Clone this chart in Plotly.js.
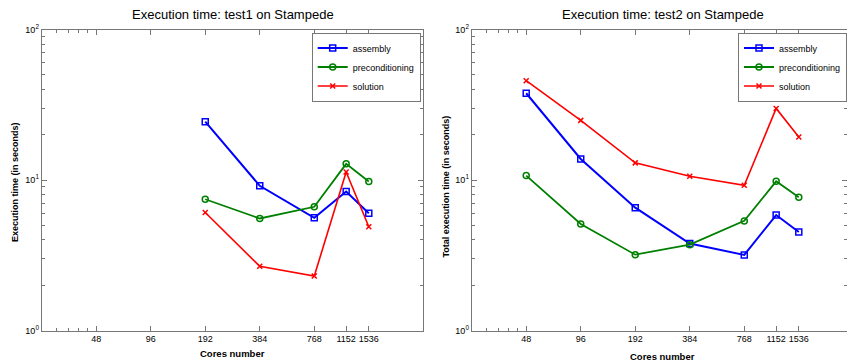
<!DOCTYPE html>
<html>
<head>
<meta charset="utf-8">
<script src="https://cdn.plot.ly/plotly-3.0.1.min.js"></script>
<style>html,body{margin:0;padding:0;background:#fff;}#chart{width:847px;height:362px;}</style>
</head>
<body>
<div id="chart"></div>
<script>
// ---- data ----
const cores1 = [192, 384, 768, 1152, 1536];
const assembly1 = [24.4, 9.15, 5.61, 8.39, 6.02];
const precond1 = [7.45, 5.55, 6.64, 12.8, 9.77];
const solution1 = [6.08, 2.67, 2.30, 11.3, 4.89];

const cores2 = [48, 96, 192, 384, 768, 1152, 1536];
const assembly2 = [37.7, 13.8, 6.55, 3.78, 3.18, 5.85, 4.51];
const precond2 = [10.7, 5.10, 3.19, 3.72, 5.35, 9.80, 7.67];
const solution2 = [45.7, 24.9, 13.0, 10.6, 9.22, 29.9, 19.3];

const xTickVals = [48, 96, 192, 384, 768, 1152, 1536];
const xTickText = ['48', '96', '192', '384', '768', '1152', '1536'];
const xMinorVals = [28.8, 33.6, 38.4, 43.2];
const yTickVals = [1, 10, 100];
const yTickText = ['10<sup>0</sup>', '10<sup>1</sup>', '10<sup>2</sup>'];
const yMinorVals = [2, 3, 4, 5, 6, 7, 8, 9, 20, 30, 40, 50, 60, 70, 80, 90];

const seriesNames = ['assembly', 'preconditioning', 'solution'];
const titles = ['Execution time: test1 on Stampede', 'Execution time: test2 on Stampede'];
const yTitles = ['Execution time (in seconds)', 'Total execution time (in seconds)'];
const xTitle = 'Cores number';

// ---- styling / layout ----
const W = 847, H = 362;
const fx = p => p / W;
const fy = p => 1 - p / H;
const FONT = 'Liberation Sans, Arial, sans-serif';
const AX = '#777';
const colors = ['#0000ff', '#008000', '#ff0000'];
const lw = [2, 1.8, 1.6];
const markers = [
  {symbol: 'square-open', size: 6, line: {width: 1.5}},
  {symbol: 'circle-open', size: 6, line: {width: 1.5}},
  {symbol: 'x-thin-open', size: 5, line: {width: 1.5}}
];

function mk(x, y, i, xa, ya, leg) {
  return {
    x: x, y: y, type: 'scatter', mode: 'lines+markers', name: seriesNames[i],
    xaxis: xa, yaxis: ya, legend: leg,
    line: {color: colors[i], width: lw[i]},
    marker: Object.assign({color: colors[i]}, markers[i], {line: {color: colors[i], width: 1.5}})
  };
}

const traces = [
  mk(cores1, assembly1, 0, 'x', 'y', 'legend'),
  mk(cores1, precond1, 1, 'x', 'y', 'legend'),
  mk(cores1, solution1, 2, 'x', 'y', 'legend'),
  mk(cores2, assembly2, 0, 'x2', 'y2', 'legend2'),
  mk(cores2, precond2, 1, 'x2', 'y2', 'legend2'),
  mk(cores2, solution2, 2, 'x2', 'y2', 'legend2')
];

const xLo = Math.log10(24), xHi = Math.log10(3072);
const L1 = 41.7, R1 = 423.3, L2 = 471.7;
const panelW = R1 - L1;
const xHi2 = xLo + (W - L2) / panelW * (xHi - xLo);
const T = 29.5, B = 330.5;

function xax(domain, range) {
  return {
    type: 'log', domain: domain, range: range,
    tickmode: 'array', tickvals: xTickVals, ticktext: xTickText,
    ticks: 'inside', ticklen: 5, tickwidth: 1, tickcolor: AX,
    showline: true, linecolor: AX, linewidth: 1, mirror: 'ticks',
    showgrid: false, zeroline: false,
    tickfont: {family: FONT, size: 9, color: '#000'},
    minor: {tickmode: 'array', tickvals: xMinorVals, ticks: 'inside', ticklen: 3, tickcolor: AX, showgrid: false}
  };
}
function yax(anchor) {
  return {
    type: 'log', domain: [fy(B), fy(T)], range: [0, 2], anchor: anchor,
    tickmode: 'array', tickvals: yTickVals, ticktext: yTickText,
    ticks: 'inside', ticklen: 5, tickwidth: 1, tickcolor: AX,
    showline: true, linecolor: AX, linewidth: 1, mirror: 'ticks',
    showgrid: false, zeroline: false,
    tickfont: {family: FONT, size: 9, color: '#000'},
    minor: {tickmode: 'array', tickvals: yMinorVals, ticks: 'inside', ticklen: 3, tickcolor: AX, showgrid: false}
  };
}
function legend(xRight) {
  return {
    x: fx(xRight), xanchor: 'right', y: fy(32.5), yanchor: 'top',
    xref: 'paper', yref: 'paper',
    bgcolor: '#fff', bordercolor: AX, borderwidth: 1,
    font: {family: FONT, size: 9, color: '#000'},
    itemwidth: 30, tracegroupgap: 0
  };
}

const ann = [
  {text: titles[0], x: fx((L1 + R1) / 2), y: fy(14), font: {size: 13}},
  {text: titles[1], x: fx((L2 + L2 + panelW) / 2), y: fy(15), font: {size: 13}},
  {text: '<b>' + xTitle + '</b>', x: fx((L1 + R1) / 2), y: fy(353.5), font: {size: 9.5}},
  {text: '<b>' + xTitle + '</b>', x: fx((L2 + L2 + panelW) / 2), y: fy(356), font: {size: 9.5}},
  {text: '<b>' + yTitles[0] + '</b>', x: fx(15), y: fy(182), textangle: -90, font: {size: 9}},
  {text: '<b>' + yTitles[1] + '</b>', x: fx(445.5), y: fy(187), textangle: -90, font: {size: 9}}
].map(a => Object.assign({xref: 'paper', yref: 'paper', showarrow: false, xanchor: 'center', yanchor: 'middle'}, a,
  {font: Object.assign({family: FONT, color: '#000'}, a.font)}));

const layout = {
  width: W, height: H,
  margin: {l: 0, r: 0, t: 0, b: 0, pad: 0},
  paper_bgcolor: '#fff', plot_bgcolor: '#fff',
  showlegend: true,
  xaxis: xax([fx(L1), fx(R1)], [xLo, xHi]),
  yaxis: yax('x'),
  xaxis2: Object.assign(xax([fx(L2), 1], [xLo, xHi2]), {anchor: 'y2'}),
  yaxis2: yax('x2'),
  legend: legend(420.7),
  legend2: legend(847),
  annotations: ann
};

Plotly.newPlot('chart', traces, layout, {displayModeBar: false, staticPlot: true});
</script>
</body>
</html>
